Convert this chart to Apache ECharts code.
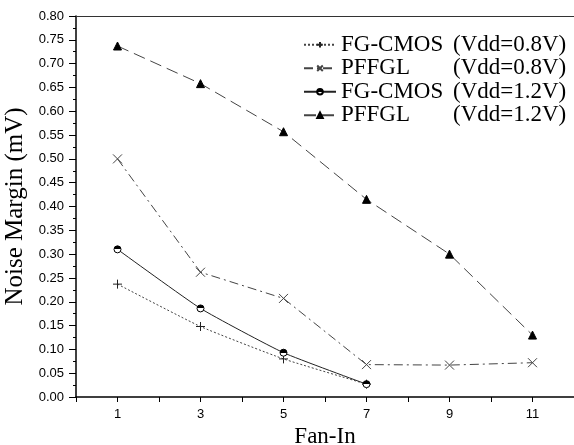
<!DOCTYPE html>
<html><head><meta charset="utf-8">
<script src="https://cdn.jsdelivr.net/npm/echarts@6/dist/echarts.min.js"></script>
<style>html,body{margin:0;padding:0;background:#fff}#c{width:574px;height:445px}</style>
</head><body><div id="c"></div>
<script>
const fanIn = [1, 3, 5, 7, 9, 11];
const fgCmos08 = [0.237, 0.148, 0.080, 0.027];
const pffgl08 = [0.500, 0.262, 0.207, 0.068, 0.067, 0.072];
const fgCmos12 = [0.310, 0.186, 0.093, 0.027];
const pffgl12 = [0.737, 0.658, 0.557, 0.415, 0.300, 0.130];
const seriesNames = ['FG-CMOS (Vdd=0.8V)', 'PFFGL (Vdd=0.8V)', 'FG-CMOS (Vdd=1.2V)', 'PFFGL (Vdd=1.2V)'];

const pts = (vals) => vals.map((v, i) => [fanIn[i], v]);
const serif = '"Liberation Serif", "Times New Roman", serif';
const sans = '"Liberation Sans", Arial, sans-serif';

const chart = echarts.init(document.getElementById('c'), null, {renderer: 'canvas'});
const lineCol = '#444';
chart.setOption({
  animation: false,
  backgroundColor: '#fff',
  grid: {left: 76, top: 16, right: 0, bottom: 48, containLabel: false, outerBoundsMode: 'none'},
  legend: {
    orient: 'vertical', left: 298, top: 28, itemWidth: 32, itemHeight: 7, itemGap: 0,
    align: 'left',
    data: seriesNames,
    formatter: (n) => { const k = n.indexOf(' ('); return '{a|' + n.slice(0, k) + '}{b|' + n.slice(k + 1) + '}'; },
    textStyle: {
      fontFamily: serif, fontSize: 23, color: '#000', lineHeight: 23.5,
      rich: {a: {fontFamily: serif, fontSize: 23, width: 112, lineHeight: 23.5}, b: {fontFamily: serif, fontSize: 23, lineHeight: 23.5}}
    }
  },
  xAxis: [{
    type: 'value', min: 0, max: 12, interval: 1,
    name: 'Fan-In', nameLocation: 'middle', nameGap: 28,
    nameTextStyle: {fontFamily: serif, fontSize: 23, color: '#000'},
    axisLine: {lineStyle: {color: '#000', width: 1.5}},
    axisTick: {inside: false, length: 5, lineStyle: {color: '#000'}},
    axisLabel: {color: '#000', fontFamily: sans, fontSize: 13, margin: 11,
      formatter: (v) => (v % 2 === 1 ? String(v) : '')},
    splitLine: {show: false}
  }, {
    type: 'value', min: 0, max: 12, position: 'top',
    axisLine: {show: true, lineStyle: {color: '#333', width: 1}},
    axisTick: {show: false}, axisLabel: {show: false}, splitLine: {show: false}
  }],
  yAxis: [{
    type: 'value', min: 0, max: 0.8, interval: 0.05,
    name: 'Noise Margin (mV)', nameLocation: 'middle', nameGap: 35,
    nameTextStyle: {fontFamily: serif, fontSize: 25, color: '#000'},
    axisLine: {show: true, lineStyle: {color: '#000', width: 1.5}},
    axisTick: {inside: false, length: 7, lineStyle: {color: '#000'}},
    minorTick: {show: true, splitNumber: 2, length: 3, lineStyle: {color: '#000'}},
    axisLabel: {color: '#000', fontFamily: sans, fontSize: 13, margin: 12, formatter: (v) => v.toFixed(2)},
    splitLine: {show: false}
  }],
  series: [
    {name: seriesNames[0], type: 'line', data: pts(fgCmos08), smooth: 0.15,
      symbol: 'path://M5,0L5,10M0,5L10,5', symbolSize: 9,
      itemStyle: {color: 'transparent', borderColor: '#222', borderWidth: 1},
      lineStyle: {color: lineCol, width: 1, type: [2, 2]}},
    {name: seriesNames[1], type: 'line', data: pts(pffgl08),
      symbol: 'path://M0,0L10,10M10,0L0,10', symbolSize: 9,
      itemStyle: {color: 'transparent', borderColor: '#444', borderWidth: 1},
      lineStyle: {color: lineCol, width: 1, type: [9, 4, 2, 4]}},
    {name: seriesNames[2], type: 'line', data: pts(fgCmos12), smooth: 0.15,
      symbol: 'circle', symbolSize: 7,
      itemStyle: {color: {type: 'linear', x: 0, y: 0, x2: 0, y2: 1, colorStops: [{offset: 0, color: '#000'}, {offset: 0.5, color: '#000'}, {offset: 0.5, color: '#fff'}, {offset: 1, color: '#fff'}]}, borderColor: '#000', borderWidth: 1},
      lineStyle: {color: '#222', width: 1, type: 'solid'}},
    {name: seriesNames[3], type: 'line', data: pts(pffgl12),
      symbol: 'triangle', symbolSize: 8,
      itemStyle: {color: '#000', borderColor: '#000', borderWidth: 1},
      lineStyle: {color: lineCol, width: 1, type: [12, 6]}}
  ]
});
</script></body></html>
